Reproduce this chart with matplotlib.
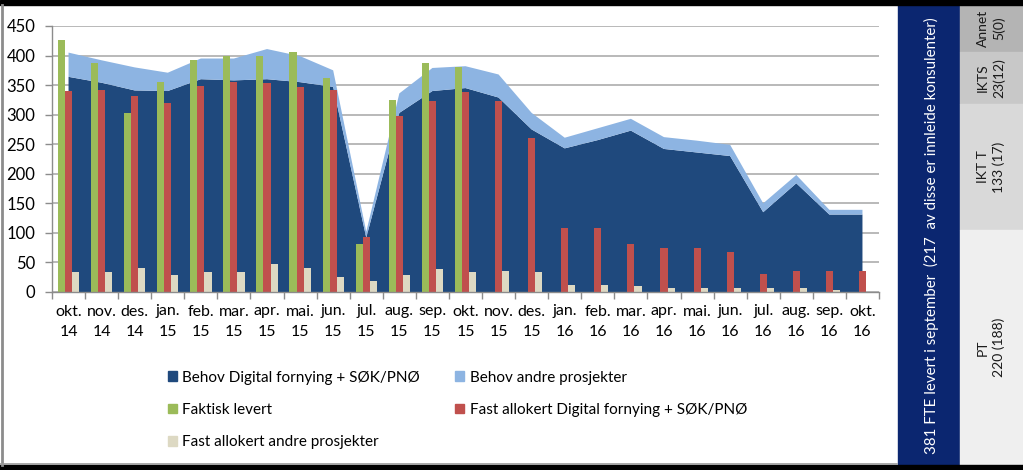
import matplotlib
matplotlib.use("Agg")
import matplotlib.pyplot as plt
import numpy as np
from matplotlib.patches import Rectangle, Patch
from matplotlib.lines import Line2D

plt.rcParams['font.family'] = ['Lato', 'DejaVu Sans']

# ---------------- data ----------------
months = ["okt.\n14", "nov.\n14", "des.\n14", "jan.\n15", "feb.\n15", "mar.\n15", "apr.\n15",
          "mai.\n15", "jun.\n15", "jul.\n15", "aug.\n15", "sep.\n15", "okt.\n15", "nov.\n15",
          "des.\n15", "jan.\n16", "feb.\n16", "mar.\n16", "apr.\n16", "mai.\n16", "jun.\n16",
          "jul.\n16", "aug.\n16", "sep.\n16", "okt.\n16"]

behov_digital = [364, 354, 341, 340, 360, 358, 360, 355, 347, 92, 303, 340, 345, 329,
                 275, 243, 257, 273, 242, 236, 230, 135, 184, 131, 131]
behov_andre = [41, 38, 39, 31, 35, 37, 51, 44, 28, 10, 33, 39, 37, 39,
               28, 18, 20, 20, 20, 20, 19, 15, 14, 8, 8]
faktisk_levert = [426, 387, 302, 356, 392, 399, 399, 406, 362, 81, 325, 387, 380,
                  np.nan, np.nan, np.nan, np.nan, np.nan, np.nan, np.nan, np.nan,
                  np.nan, np.nan, np.nan, np.nan]
fast_digital = [340, 342, 331, 319, 349, 355, 354, 346, 341, 93, 298, 323, 338, 323,
                260, 109, 109, 81, 74, 74, 68, 30, 36, 36, 36]
fast_andre = [34, 34, 40, 28, 33, 34, 47, 40, 25, 18, 28, 39, 34, 36,
              33, 11, 11, 10, 7, 7, 7, 6, 7, 3, 0]

yticks = [0, 50, 100, 150, 200, 250, 300, 350, 400, 450]

legend_labels = ["Behov Digital fornying + SØK/PNØ", "Behov andre prosjekter",
                 "Faktisk levert", "Fast allokert Digital fornying + SØK/PNØ",
                 "Fast allokert andre prosjekter"]

side_title = "381 FTE levert i september  (217  av disse er innleide konsulenter)"
side_boxes = ["Annet\n5(0)", "IKTS\n23(12)", "IKT T\n133 (17)", "PT\n220 (188)"]

# ---------------- styles ----------------
C_DARK = "#1F497D"
C_LIGHT = "#8DB4E2"
C_GREEN = "#9BBB59"
C_RED = "#C0504D"
C_BEIGE = "#DDD9C3"
C_NAVY = "#0B2670"
box_colors = ["#B4B4B4", "#C8C8C8", "#D9D9D9", "#EFEFEF"]
box_y = [5, 52, 104, 230, 465]   # pixel bounds (top down)

W, H = 1023, 470
fig = plt.figure(figsize=(W / 100, H / 100), dpi=100)
fig.patch.set_facecolor("white")


def fx(px):
    return px / W


def fy(py):
    return 1 - py / H


ax = fig.add_axes([fx(52), fy(292), fx(879) - fx(52), fy(26) - fy(292)])
x = np.arange(len(months))

ax.stackplot(x, behov_digital, behov_andre, colors=[C_DARK, C_LIGHT], zorder=1, linewidth=0)

w = 0.215
ax.bar(x - w, faktisk_levert, width=w, color=C_GREEN, zorder=2, linewidth=0)
ax.bar(x, fast_digital, width=w, color=C_RED, zorder=2, linewidth=0)
ax.bar(x + w, fast_andre, width=w, color=C_BEIGE, zorder=2, linewidth=0)

ax.set_xlim(-0.5, len(months) - 0.5)
ax.set_ylim(0, 450)
ax.set_yticks(yticks)
ax.yaxis.grid(True, color="#A6A6A6", linewidth=1.1, zorder=0)
ax.set_axisbelow(True)

for s in ["top", "right"]:
    ax.spines[s].set_visible(False)
for s in ["left", "bottom"]:
    ax.spines[s].set_color("#8C8C8C")
    ax.spines[s].set_linewidth(1.0)

ax.set_xticks(np.arange(len(months) + 1) - 0.5)
ax.set_xticklabels([])
ax.set_xticks(x, minor=True)
ax.set_xticklabels(months, minor=True, fontsize=11.5, linespacing=1.6)
ax.tick_params(axis="x", which="major", length=5, color="#8C8C8C", width=1)
ax.tick_params(axis="x", which="minor", length=0, pad=9)
ax.tick_params(axis="y", length=5, color="#8C8C8C", width=1, labelsize=12, pad=7)

handles = [Patch(color=C_DARK), Patch(color=C_GREEN), Patch(color=C_BEIGE),
           Patch(color=C_LIGHT), Patch(color=C_RED)]
labels = [legend_labels[0], legend_labels[2], legend_labels[4], legend_labels[1], legend_labels[3]]
fig.legend(handles, labels, loc="upper left", bbox_to_anchor=(fx(160), fy(363)),
           ncol=2, frameon=False, fontsize=11, handlelength=0.6, handleheight=0.6,
           handletextpad=0.35, columnspacing=2.3, labelspacing=1.2, borderpad=0)

# figure frame
fig.add_artist(Rectangle((0, fy(5)), 1, fy(0) - fy(5), transform=fig.transFigure,
                         color="black", zorder=5))
fig.add_artist(Rectangle((0, 0), 1, fy(465), transform=fig.transFigure,
                         color="black", zorder=5))
fig.add_artist(Line2D([fx(1.5), fx(1.5)], [fy(465), fy(5)], transform=fig.transFigure,
                      color="#8C8C8C", linewidth=2, zorder=5))
fig.add_artist(Line2D([0, fx(897)], [fy(463.5), fy(463.5)], transform=fig.transFigure,
                      color="#9A9A9A", linewidth=1.2, zorder=5))

# side panel
fig.add_artist(Rectangle((fx(898), fy(465)), fx(960) - fx(898), fy(5) - fy(465),
                         transform=fig.transFigure, color=C_NAVY, zorder=4))
fig.text(fx(931), fy(236), side_title, rotation=90, ha="center", va="center",
         color="white", fontsize=10.8, zorder=6)
for i, (lbl, col) in enumerate(zip(side_boxes, box_colors)):
    y0, y1 = box_y[i], box_y[i + 1]
    fig.add_artist(Rectangle((fx(960), fy(y1)), fx(1023) - fx(960), fy(y0) - fy(y1),
                             transform=fig.transFigure, color=col, zorder=4))
    fig.text(fx(991), fy((y0 + y1) / 2), lbl, rotation=90, ha="center", va="center",
             multialignment="center", color="#1A1A1A", fontsize=10, zorder=6,
             linespacing=1.3)

fig.savefig("out.png", dpi=100)
